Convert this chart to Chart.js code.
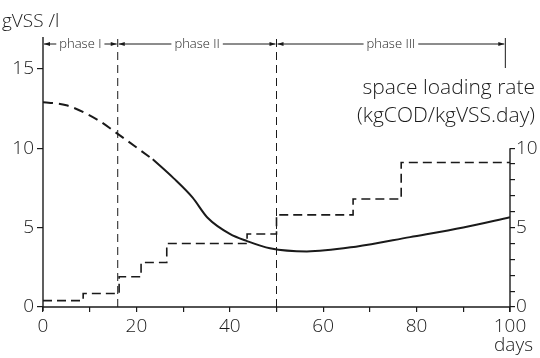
<!DOCTYPE html>
<html>
<head>
<meta charset="utf-8">
<script src="https://cdn.jsdelivr.net/npm/chart.js@4"></script>
<style>
  html, body { margin:0; padding:0; background:#fff; }
  #wrap { width:540px; height:358px; }
</style>
</head>
<body>
<div id="wrap"><canvas id="chart" width="540" height="358"></canvas></div>
<script>
/* data */
const biomassDashX = [0, 5, 11.6, 16, 23.5];
const biomassDashY = [12.9, 12.7, 11.8, 10.9, 9.3];
const biomassX = [23.5, 28, 32, 35.3, 40, 43.7, 48.6, 56.5, 67, 78.6, 90, 100];
const biomassY = [9.3, 8.1, 6.9, 5.6, 4.6, 4.15, 3.7, 3.5, 3.8, 4.4, 5.0, 5.65];

const loadX = [0, 8.6, 16.3, 21, 26.5, 43.7, 50, 66.4, 76.7, 100];
const loadY = [0.4, 0.85, 1.9, 2.8, 4.0, 4.6, 5.8, 6.8, 9.1, 9.1];

const phaseNames = ["phase I", "phase II", "phase III"];
const phaseBounds = [0, 16, 50, 100];

const FONT = '"Open Sans", "DejaVu Sans", sans-serif';
const INK = "#1a1a1a";

function pts(xs, ys){ return xs.map((x,i)=>({x, y: ys[i]})); }

/* axes, phase brackets and labels */
const decor = {
  id: "decor",
  afterDraw(chart){
    const {ctx, chartArea:a, scales} = chart;
    const x = scales.x, y = scales.y, y2 = scales.y2;
    const bottom = y.getPixelForValue(0);
    ctx.save();
    ctx.strokeStyle = INK;
    ctx.fillStyle = INK;
    ctx.lineWidth = 1.4;

    function line(x1,y1,x2,y2_){
      ctx.beginPath(); ctx.moveTo(x1,y1); ctx.lineTo(x2,y2_); ctx.stroke();
    }

    // left + bottom axis
    line(a.left, a.top, a.left, bottom + 4);
    line(a.left, bottom, a.right, bottom);
    // right axis, only 0..10
    const r = x.getPixelForValue(100);
    line(r, y2.getPixelForValue(10), r, bottom + 5);

    // phase dividers
    ctx.lineWidth = 1;
    ctx.setLineDash([8,5]);
    [16, 50].forEach(v=>{
      const px = x.getPixelForValue(v);
      line(px, a.top + 2, px, bottom);
    });
    ctx.setLineDash([]);
    const endPx = x.getPixelForValue(99);
    line(endPx, a.top + 1, endPx, a.top + 31);

    // dimension lines with text
    const by = a.top + 7;
    ctx.font = "300 13px " + FONT;
    ctx.textBaseline = "middle";
    ctx.textAlign = "center";
    for(let i=0;i<phaseNames.length;i++){
      const x1 = x.getPixelForValue(phaseBounds[i]) + 1;
      const x2 = x.getPixelForValue(i === 2 ? 99 : phaseBounds[i+1]) - 1;
      const mid = (x1 + x2) / 2;
      const tw = ctx.measureText(phaseNames[i]).width / 2 + 3;
      line(x1, by, mid - tw, by);
      line(mid + tw, by, x2, by);
      ctx.fillText(phaseNames[i], mid, by);
      // arrow heads pointing at boundaries
      ctx.beginPath();
      ctx.moveTo(x1, by); ctx.lineTo(x1 + 6, by - 2); ctx.lineTo(x1 + 6, by + 2); ctx.closePath(); ctx.fill();
      ctx.beginPath();
      ctx.moveTo(x2, by); ctx.lineTo(x2 - 6, by - 2); ctx.lineTo(x2 - 6, by + 2); ctx.closePath(); ctx.fill();
    }

    // axis titles
    ctx.font = "300 19px " + FONT;
    ctx.textAlign = "left";
    ctx.textBaseline = "alphabetic";
    ctx.fillText("gVSS /l", 2, 27);
    ctx.textAlign = "right";
    ctx.fillText("days", 533, 351);
    ctx.font = "300 21px " + FONT;
    ctx.fillText("space loading rate", 535, 94);
    ctx.fillText("(kgCOD/kgVSS.day)", 535, 122);
    ctx.restore();
  }
};

const tickFont = { family: FONT, size: 19, weight: 300 };

new Chart(document.getElementById("chart"), {
  type: "line",
  data: {
    datasets: [
      {
        label: "biomass (estimated)",
        data: pts(biomassDashX, biomassDashY),
        borderColor: INK, borderWidth: 2, borderDash: [10,6],
        pointRadius: 0, cubicInterpolationMode: "monotone", yAxisID: "y"
      },
      {
        label: "biomass",
        data: pts(biomassX, biomassY),
        borderColor: INK, borderWidth: 2,
        pointRadius: 0, cubicInterpolationMode: "monotone", yAxisID: "y"
      },
      {
        label: "space loading rate",
        data: pts(loadX, loadY),
        borderColor: INK, borderWidth: 1.6, borderDash: [9,5],
        stepped: "before", pointRadius: 0, yAxisID: "y2"
      }
    ]
  },
  options: {
    responsive: false,
    animation: false,
    layout: { padding: { top: 37, left: 0, right: 0, bottom: 0 } },
    plugins: { legend: { display: false }, tooltip: { enabled: false } },
    scales: {
      x: {
        type: "linear", min: 0, max: 100,
        afterFit: s => { s.height = 51; },
        grid: { drawOnChartArea: false, drawTicks: true, tickLength: 5, color: INK, lineWidth: 1.2 },
        border: { display: false },
        ticks: { stepSize: 10, color: INK, font: tickFont, padding: 3, maxRotation: 0,
                 autoSkip: false, callback: v => v % 20 === 0 ? v : "" }
      },
      y: {
        position: "left", min: 0, max: 17,
        afterFit: s => { s.width = 43; },
        afterBuildTicks: s => { s.ticks = s.ticks.filter(t => t.value <= 15); },
        grid: { drawOnChartArea: false, drawTicks: true, tickLength: 6, color: INK, lineWidth: 1.2 },
        border: { display: false },
        ticks: { stepSize: 5, color: INK, font: tickFont, padding: 3 }
      },
      y2: {
        position: "right", min: 0, max: 17,
        afterFit: s => { s.width = 30; },
        afterBuildTicks: s => { s.ticks = s.ticks.filter(t => t.value <= 10); },
        grid: { drawOnChartArea: false, drawTicks: true, tickLength: 5, color: INK, lineWidth: 1.2 },
        border: { display: false },
        ticks: { stepSize: 1, color: INK, font: tickFont, padding: 1, autoSkip: false,
                 callback: v => v % 5 === 0 ? v : "" }
      }
    }
  },
  plugins: [decor]
});
</script>
</body>
</html>
